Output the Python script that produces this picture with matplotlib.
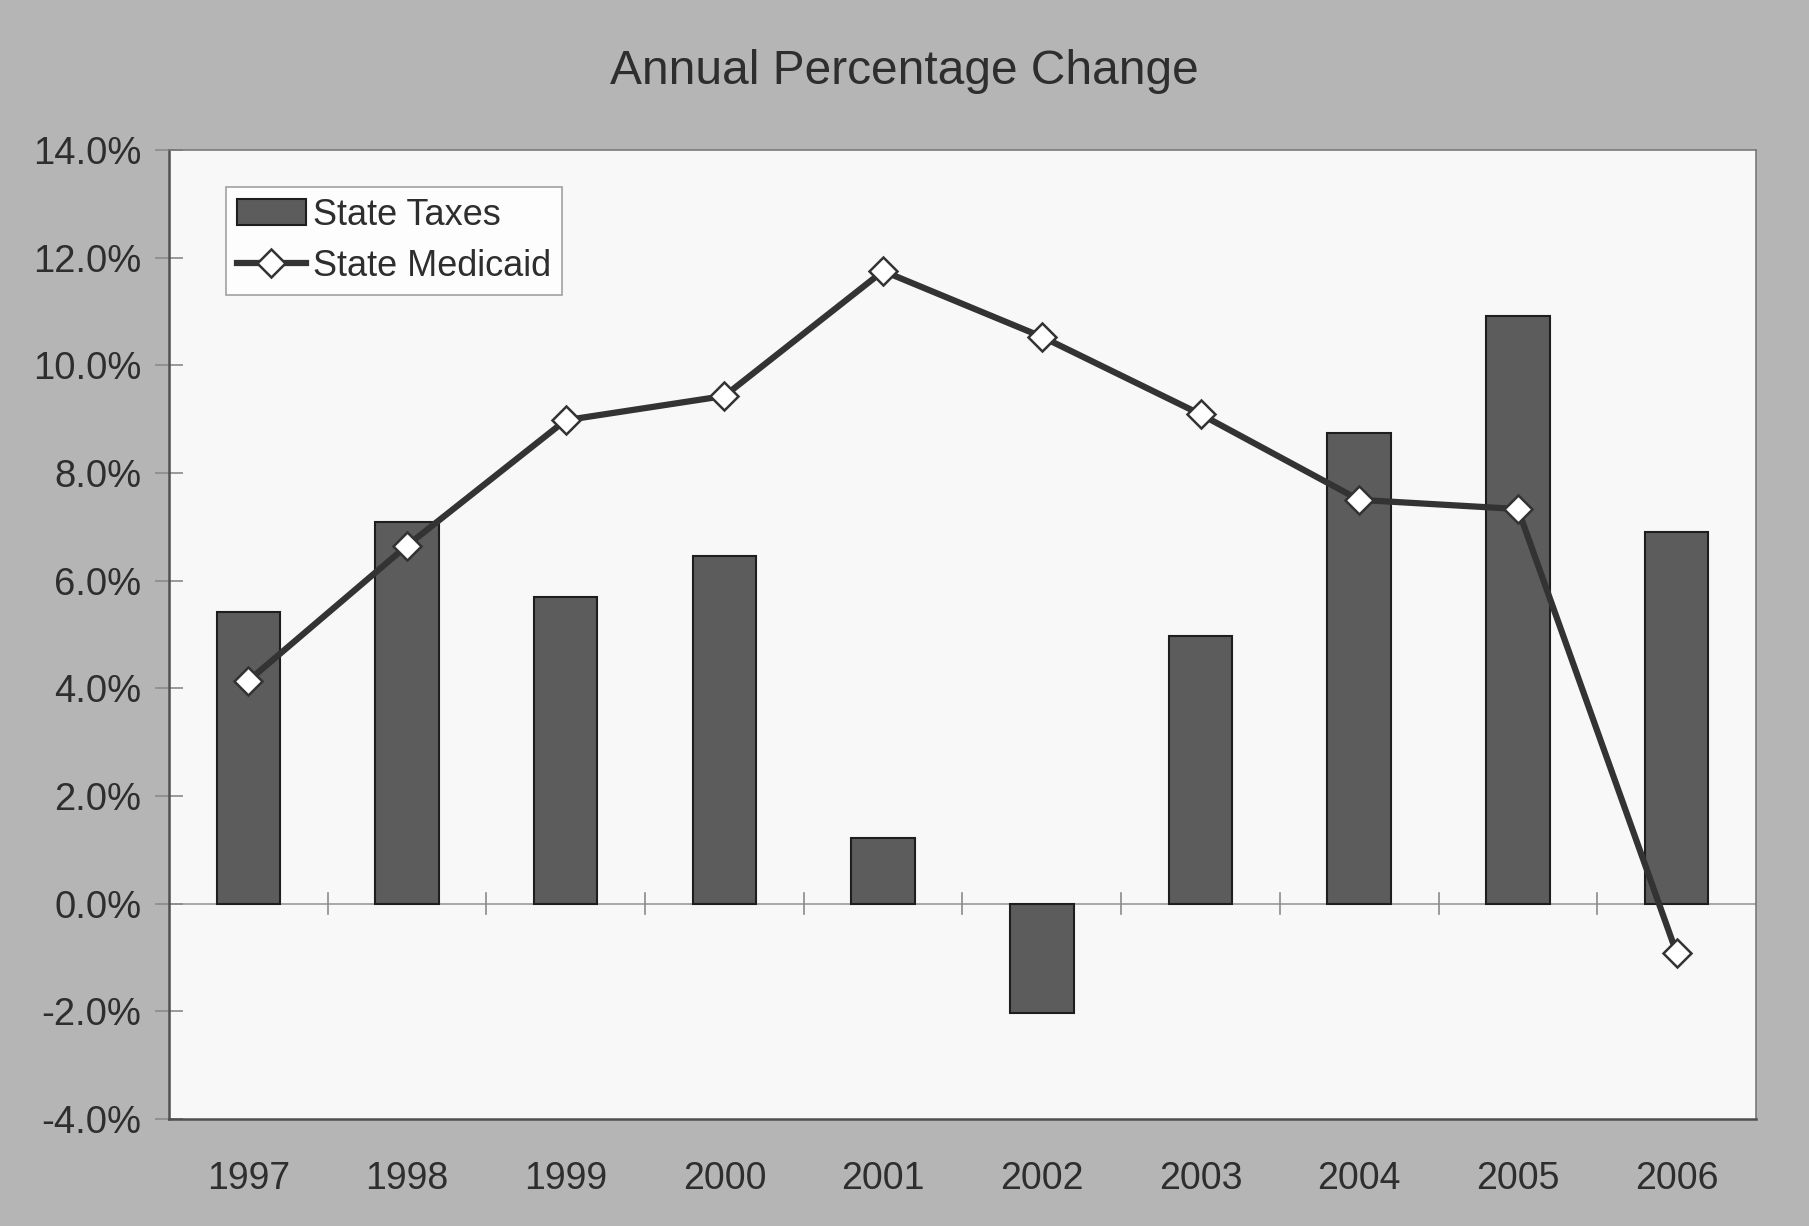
import numpy as np
import matplotlib
matplotlib.use("Agg")
from matplotlib import pyplot as plt
from matplotlib.ticker import FuncFormatter

plt.rcParams['font.family'] = ['Liberation Sans', 'DejaVu Sans']

years = ["1997", "1998", "1999", "2000", "2001", "2002", "2003", "2004", "2005", "2006"]
state_taxes = [5.42, 7.08, 5.70, 6.45, 1.22, -2.04, 4.97, 8.75, 10.91, 6.90]
state_medicaid = [4.14, 6.65, 8.98, 9.43, 11.75, 10.53, 9.09, 7.50, 7.33, -0.92]
y_ticks = [-4, -2, 0, 2, 4, 6, 8, 10, 12, 14]

text_color = "#2e2e2e"
bg_gray = "#b5b5b5"

fig = plt.figure(figsize=(18.09, 12.26), dpi=100, facecolor=bg_gray)
ax = fig.add_axes([0.0934, 0.0873, 0.8773, 0.7904])
ax.set_facecolor("#f8f8f8")

x = np.arange(len(years))
bars = ax.bar(x, state_taxes, width=0.4, color="#5c5c5c", edgecolor="#1e1e1e",
              linewidth=1.5, label="State Taxes", zorder=2)
line, = ax.plot(x, state_medicaid, color="#333333", linewidth=4.5, marker="D",
                markersize=14, markerfacecolor="white", markeredgecolor="#333333",
                markeredgewidth=1.8, label="State Medicaid", zorder=3)

# category axis sits on the 0% line
ax.axhline(0, color="#9a9a9a", linewidth=1.2, zorder=1)
for b in np.arange(0.5, len(years) - 0.5, 1.0):
    ax.plot([b, b], [-0.2, 0.2], color="#8a8a8a", linewidth=1.2, zorder=1)

ax.set_xlim(-0.5, len(years) - 0.5)
ax.set_ylim(-4, 14)
ax.set_yticks(y_ticks)
ax.yaxis.set_major_formatter(FuncFormatter(lambda v, p: f"{v:.1f}%"))
ax.set_xticks(x)
ax.set_xticklabels(years)

ax.tick_params(axis="y", direction="inout", length=20, width=1.2, color="#8a8a8a",
               labelsize=27.5, labelcolor=text_color, pad=10)
ax.tick_params(axis="x", length=0, labelsize=27, labelcolor=text_color, pad=30)

for side in ["left", "bottom"]:
    ax.spines[side].set_color("#505050")
    ax.spines[side].set_linewidth(1.8)
for side in ["top", "right"]:
    ax.spines[side].set_color("#7a7a7a")
    ax.spines[side].set_linewidth(1.2)

fig.text(0.5, 0.942, "Annual Percentage Change", ha="center", va="center",
         fontsize=34.5, color=text_color)

leg = ax.legend([bars, line], ["State Taxes", "State Medicaid"],
                loc="upper left", bbox_to_anchor=(0.036, 0.962), borderaxespad=0,
                fontsize=26, frameon=True, fancybox=False, handlelength=1.9,
                handletextpad=0.2, borderpad=0.3, labelspacing=0.45)
leg.get_frame().set_edgecolor("#8a8a8a")
leg.get_frame().set_linewidth(1.2)
leg.get_frame().set_facecolor("white")
for t in leg.get_texts():
    t.set_color(text_color)

fig.savefig("out.png", dpi=100, facecolor=fig.get_facecolor())
